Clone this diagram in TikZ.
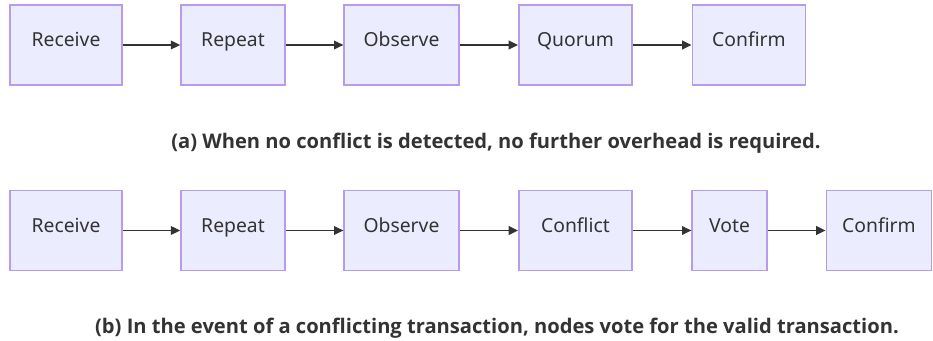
\documentclass[tikz,border=0pt]{standalone}
\usepackage{fontspec}
\setmainfont{Noto Sans}
\newfontfamily\capfont{Open Sans}
\usetikzlibrary{arrows.meta,positioning}
\definecolor{flowFill}{HTML}{ECECFF}
\definecolor{flowEdge}{HTML}{B89BEA}
\definecolor{flowText}{HTML}{333333}
\definecolor{flowArrow}{HTML}{333333}
\tikzset{
  stepBox/.style={draw=flowEdge, fill=flowFill, line width=1.2pt, minimum height=60pt,
    inner sep=0pt, text height=8pt, text depth=5.5pt, text=flowText,
    font=\fontsize{14.5}{17}\selectfont},
  flowArrow/.style={-{Triangle[length=7pt,width=6.5pt]}, line width=1.1pt, draw=flowArrow},
  capLabel/.style={font=\capfont\bfseries\fontsize{15.1}{18}\selectfont, text=flowText}
}
\begin{document}
\begin{tikzpicture}[x=0.75pt,y=-0.75pt]
  \useasboundingbox (0,0) rectangle (933,341);
  % (a) no conflict
  \node[stepBox, minimum width=84pt] (recA) at (66,45) {Receive};
  \node[stepBox, minimum width=78pt] (repA) at (233,45) {Repeat};
  \node[stepBox, minimum width=86pt] (obsA) at (401.5,45) {Observe};
  \node[stepBox, minimum width=85pt] (quoA) at (575.5,45) {Quorum};
  \node[stepBox, minimum width=85pt] (cnfA) at (749,45) {Confirm};
  \draw[flowArrow] (recA) -- (repA);
  \draw[flowArrow] (repA) -- (obsA);
  \draw[flowArrow] (obsA) -- (quoA);
  \draw[flowArrow] (quoA) -- (cnfA);
  \node[capLabel] (capA) at (496,143.5) {(a) When no conflict is detected, no further overhead is required.};
  % (b) conflicting transaction
  \node[stepBox, minimum width=84pt] (recB) at (66,230.5) {Receive};
  \node[stepBox, minimum width=78pt] (repB) at (233,230.5) {Repeat};
  \node[stepBox, minimum width=86pt] (obsB) at (401.5,230.5) {Observe};
  \node[stepBox, minimum width=85pt] (cflB) at (575.5,230.5) {Conflict};
  \node[stepBox, minimum width=56pt] (votB) at (729.5,230.5) {Vote};
  \node[stepBox, minimum width=79pt] (cnfB) at (879,230.5) {Confirm};
  \draw[flowArrow] (recB) -- (repB);
  \draw[flowArrow] (repB) -- (obsB);
  \draw[flowArrow] (obsB) -- (cflB);
  \draw[flowArrow] (cflB) -- (votB);
  \draw[flowArrow] (votB) -- (cnfB);
  \node[capLabel] (capB) at (497,328.5) {(b) In the event of a conflicting transaction, nodes vote for the valid transaction.};
\end{tikzpicture}
\end{document}
